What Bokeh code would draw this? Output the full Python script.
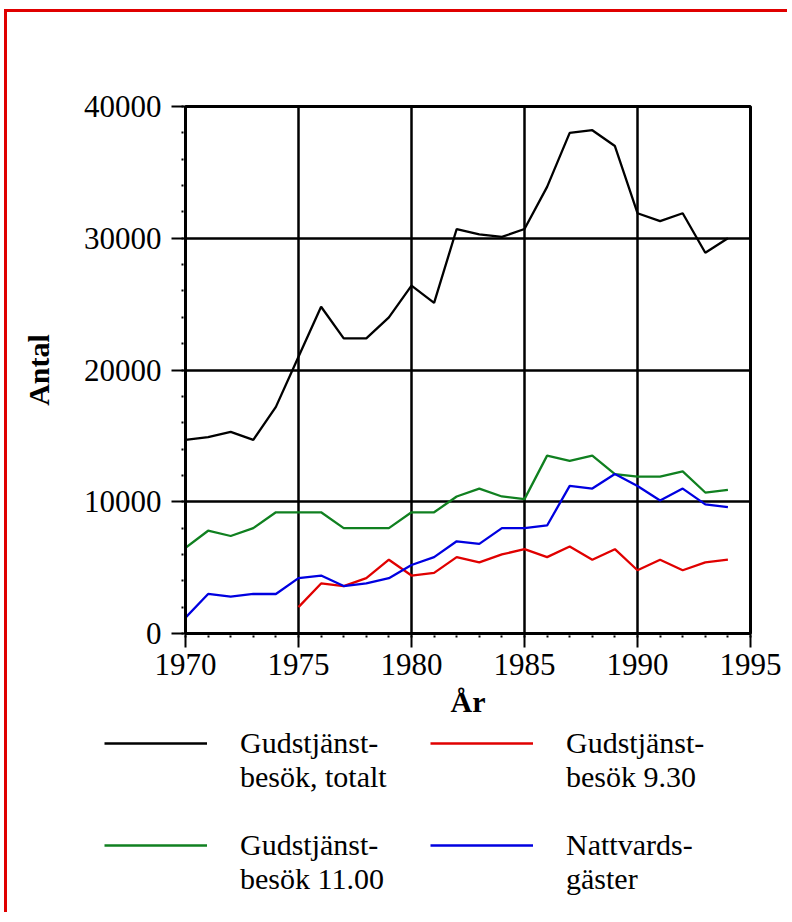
from bokeh.plotting import figure
from bokeh.layouts import column
from bokeh.models import Range1d, FixedTicker, BasicTickFormatter, Legend, LegendItem
from bokeh.embed import file_html
from bokeh.resources import INLINE

# ---- data ----
years = list(range(1970, 1995))
total = [14700, 14900, 15300, 14700, 17200, 21000, 24800, 22400, 22400, 24000,
         26400, 25100, 30700, 30300, 30100, 30700, 33900, 38000, 38200, 37000,
         31900, 31300, 31900, 28900, 30000]
besok_1100 = [6500, 7800, 7400, 8000, 9200, 9200, 9200, 8000, 8000, 8000,
              9200, 9200, 10400, 11000, 10400, 10200, 13500, 13100, 13500, 12100,
              11900, 11900, 12300, 10700, 10900]
nattvard = [1200, 3000, 2800, 3000, 3000, 4200, 4400, 3600, 3800, 4200,
            5200, 5800, 7000, 6800, 8000, 8000, 8200, 11200, 11000, 12100,
            11200, 10100, 11000, 9800, 9600]
years_930 = list(range(1975, 1995))
besok_930 = [2000, 3800, 3600, 4200, 5600, 4400, 4600, 5800, 5400, 6000,
             6400, 5800, 6600, 5600, 6400, 4800, 5600, 4800, 5400, 5600]

x_ticks = [1970, 1975, 1980, 1985, 1990, 1995]
x_minor = list(range(1970, 1996))
y_ticks = [0, 10000, 20000, 30000, 40000]
y_minor = list(range(0, 40001, 2000))

# leading empty line so that the legend swatch sits level with the first text line
labels = ["\nGudstjänst-\nbesök, totalt", "\nGudstjänst-\nbesök 9.30",
          "\nGudstjänst-\nbesök 11.00", "\nNattvards-\ngäster"]

FONT = "Liberation Serif"
RED = "#e00000"
GREEN = "#108020"
BLUE = "#0000e0"
colors = ["black", RED, GREEN, BLUE]
series = [(years, total), (years_930, besok_930), (years, besok_1100), (years, nattvard)]

# ---- main chart ----
p = figure(width=780, height=715,
           x_range=Range1d(1970, 1995), y_range=Range1d(0, 40000),
           output_backend="svg", toolbar_location=None,
           min_border_left=178, min_border_right=37,
           min_border_top=94, min_border_bottom=94)
p.frame_align = False

p.outline_line_color = "black"
p.outline_line_width = 3

for ax in (p.xaxis[0], p.yaxis[0]):
    ax.axis_line_width = 3
    ax.major_tick_line_width = 2
    ax.major_tick_out = 14
    ax.major_tick_in = 0
    ax.minor_tick_line_width = 2
    ax.minor_tick_out = 8
    ax.minor_tick_in = 0
    ax.minor_tick_line_dash = "0 4 2 20"
    ax.major_label_text_font = FONT
    ax.major_label_text_font_size = "31px"
    ax.major_label_text_color = "black"
    ax.axis_label_text_font = FONT
    ax.axis_label_text_font_size = "30px"
    ax.axis_label_text_font_style = "bold"
    ax.axis_label_text_color = "black"

p.xaxis.ticker = FixedTicker(ticks=x_ticks, minor_ticks=x_minor)
p.yaxis.ticker = FixedTicker(ticks=y_ticks, minor_ticks=y_minor)
p.yaxis.formatter = BasicTickFormatter(use_scientific=False)
p.xaxis.major_label_standoff = 6
p.yaxis.major_label_standoff = 10
p.xaxis.axis_label = "År"
p.yaxis.axis_label = "Antal"
p.xaxis.axis_label_standoff = 7
p.yaxis.axis_label_standoff = 26

p.grid.grid_line_color = "black"
p.grid.grid_line_width = 2.5

for (xs, ys), c in zip(series, colors):
    p.line(xs, ys, line_color=c, line_width=2.3)

# ---- legend panel (the same series, drawn out of view, only for the legend) ----
p2 = figure(width=780, height=185, x_range=Range1d(0, 780), y_range=Range1d(0, 185),
            x_axis_type=None, y_axis_type=None,
            output_backend="svg", toolbar_location=None,
            min_border=0)
p2.frame_align = False
p2.outline_line_alpha = 0
p2.grid.visible = False
items = []
for (xs, ys), c, lab in zip(series, colors, labels):
    r = p2.line(xs, ys, line_color=c, line_width=2.3)
    items.append(LegendItem(label=lab, renderers=[r]))

legend = Legend(items=items,
                location=(97, 16), orientation="horizontal", ncols=2,
                glyph_width=103, glyph_height=30, label_standoff=33,
                label_width=190, spacing=0, padding=0, margin=0,
                border_line_alpha=0, background_fill_alpha=0,
                label_text_font=FONT, label_text_font_size="30px",
                label_text_line_height=1.15,
                label_text_color="black")
p2.add_layout(legend, "center")

layout = column(p, p2, spacing=0)
layout.styles = {"border-top": f"3px solid {RED}", "border-left": f"3px solid {RED}",
                 "margin-left": "4px", "margin-top": "9px"}

open("out.html", "w").write(file_html(layout, INLINE))
